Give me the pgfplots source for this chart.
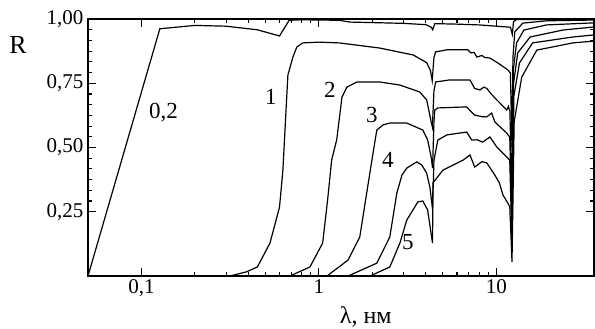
\documentclass[border=0pt]{standalone}
\usepackage{pgfplots}
\pgfplotsset{compat=1.18}
\usepackage{fontspec}
\setmainfont{Liberation Serif}
\begin{document}
\begin{tikzpicture}[font=\rmfamily\fontsize{21bp}{25bp}\selectfont]
\begin{axis}[
  xmode=log,
  scale only axis,
  width=506bp, height=257bp,
  xmin=0.05, xmax=35.5,
  ymin=0, ymax=1,
  xtick={0.1,1,10},
  xticklabels={{0,1},{1},{10}},
  ytick={0.25,0.5,0.75,1},
  yticklabels={{0,25},{0,50},{0,75},{1,00}},
  minor y tick num=5,
  major tick length=8bp,
  minor tick length=4bp,
  axis line style={line width=1.3bp},
  every tick/.style={black, line width=1.1bp},
  tick label style={font=\rmfamily\fontsize{21bp}{25bp}\selectfont},
  yticklabel style={xshift=-1bp},
  xticklabel style={yshift=0bp},
  no marks,
  clip mode=individual,
]
\addplot[black, line width=1.2bp] coordinates {(0.05,0) (0.127,0.962) (0.2,0.975) (0.3,0.972) (0.45,0.958) (0.6,0.934) (0.68,0.995) (0.8,0.997) (1.3,0.995) (1.5,0.988) (2.0,0.986) (3.0,0.983) (4.0,0.978) (4.3,0.968) (4.38,0.958) (4.5,0.982) (6.0,0.98) (8.0,0.977) (10.0,0.972) (12.0,0.968) (12.3,0.94) (12.5,0.99) (13,0.998) (35.5,0.999)};
\addplot[black, line width=1.2bp] coordinates {(0.315,0) (0.39,0.016) (0.45,0.035) (0.53,0.128) (0.6,0.268) (0.627,0.412) (0.65,0.62) (0.669,0.782) (0.714,0.852) (0.751,0.891) (0.812,0.907) (1.0,0.91) (1.3,0.907) (2.2,0.887) (3.4,0.86) (4.05,0.83) (4.25,0.8) (4.35,0.76) (4.45,0.85) (4.55,0.872) (5.26,0.88) (6.9,0.88) (7.2,0.868) (7.5,0.87) (7.76,0.852) (8.3,0.858) (8.6,0.85) (9.2,0.848) (10.2,0.829) (11.6,0.802) (12.0,0.79) (12.25,0.5) (12.4,0.85) (12.7,0.95) (14.1,0.984) (19.2,0.993) (35.5,0.996)};
\addplot[black, line width=1.2bp] coordinates {(0.687,0) (0.89,0.035) (1.05,0.128) (1.12,0.296) (1.18,0.451) (1.26,0.53) (1.35,0.697) (1.44,0.735) (1.64,0.755) (2.2,0.755) (2.86,0.743) (3.7,0.716) (4.05,0.685) (4.27,0.607) (4.36,0.58) (4.45,0.72) (4.55,0.755) (5.47,0.763) (7.1,0.763) (7.55,0.73) (8.08,0.724) (8.5,0.735) (8.83,0.73) (9.3,0.71) (10.06,0.685) (11.45,0.646) (11.7,0.66) (11.92,0.64) (12.25,0.3) (12.45,0.8) (13.0,0.907) (14.3,0.957) (19.2,0.977) (35.5,0.985)};
\addplot[black, line width=1.2bp] coordinates {(1.11,0) (1.46,0.062) (1.70,0.152) (1.86,0.323) (1.99,0.451) (2.12,0.568) (2.3,0.588) (2.51,0.595) (3.13,0.595) (3.85,0.568) (4.1,0.53) (4.3,0.46) (4.37,0.42) (4.45,0.6) (4.5,0.646) (4.68,0.654) (6.8,0.658) (7.2,0.64) (7.55,0.626) (8.3,0.62) (8.83,0.619) (9.4,0.634) (9.8,0.6) (10.2,0.588) (11.45,0.556) (11.9,0.54) (12.25,0.2) (12.5,0.75) (13.2,0.868) (15.5,0.93) (23.7,0.957) (35.5,0.969)};
\addplot[black, line width=1.2bp] coordinates {(1.46,0) (2.12,0.05) (2.51,0.152) (2.75,0.323) (2.94,0.393) (3.13,0.42) (3.56,0.444) (3.8,0.432) (4.05,0.4) (4.22,0.346) (4.37,0.26) (4.45,0.45) (4.68,0.529) (5.26,0.549) (6.8,0.56) (7.27,0.529) (7.8,0.53) (8.37,0.521) (9.2,0.541) (10.06,0.502) (11.45,0.463) (11.9,0.45) (12.25,0.12) (12.55,0.7) (13.5,0.829) (16.0,0.907) (27,0.93) (35.5,0.938)};
\addplot[black, line width=1.2bp] coordinates {(1.94,0) (2.51,0.035) (2.86,0.128) (3.13,0.218) (3.61,0.288) (3.85,0.292) (4.1,0.257) (4.3,0.16) (4.37,0.128) (4.39,0.362) (5.0,0.412) (6.5,0.451) (7.1,0.471) (7.55,0.424) (8.3,0.445) (8.83,0.44) (9.8,0.393) (10.4,0.362) (10.9,0.315) (11.6,0.284) (11.9,0.27) (12.25,0.055) (12.6,0.6) (13.9,0.774) (16.9,0.879) (27,0.907) (35.5,0.914)};
\node[font=\rmfamily\fontsize{23bp}{27bp}\selectfont] at (axis cs:0.133,0.634) {0,2};
\node[font=\rmfamily\fontsize{23bp}{27bp}\selectfont] at (axis cs:0.537,0.697) {1};
\node[font=\rmfamily\fontsize{23bp}{27bp}\selectfont] at (axis cs:1.153,0.724) {2};
\node[font=\rmfamily\fontsize{23bp}{27bp}\selectfont] at (axis cs:1.99,0.626) {3};
\node[font=\rmfamily\fontsize{23bp}{27bp}\selectfont] at (axis cs:2.45,0.451) {4};
\node[font=\rmfamily\fontsize{23bp}{27bp}\selectfont] at (axis cs:3.17,0.132) {5};
\node[font=\rmfamily\fontsize{26bp}{30bp}\selectfont] at (axis description cs:-0.138,0.899) {R};
\node[font=\rmfamily\fontsize{24bp}{28bp}\selectfont, inner sep=1bp] at (axis description cs:0.549,-0.158) {λ, нм};
\end{axis}
\pgfresetboundingbox
\path[use as bounding box] ([xshift=-88bp,yshift=-53bp]current axis.south west) rectangle ([xshift=1bp,yshift=19bp]current axis.north east);
\end{tikzpicture}
\end{document}
